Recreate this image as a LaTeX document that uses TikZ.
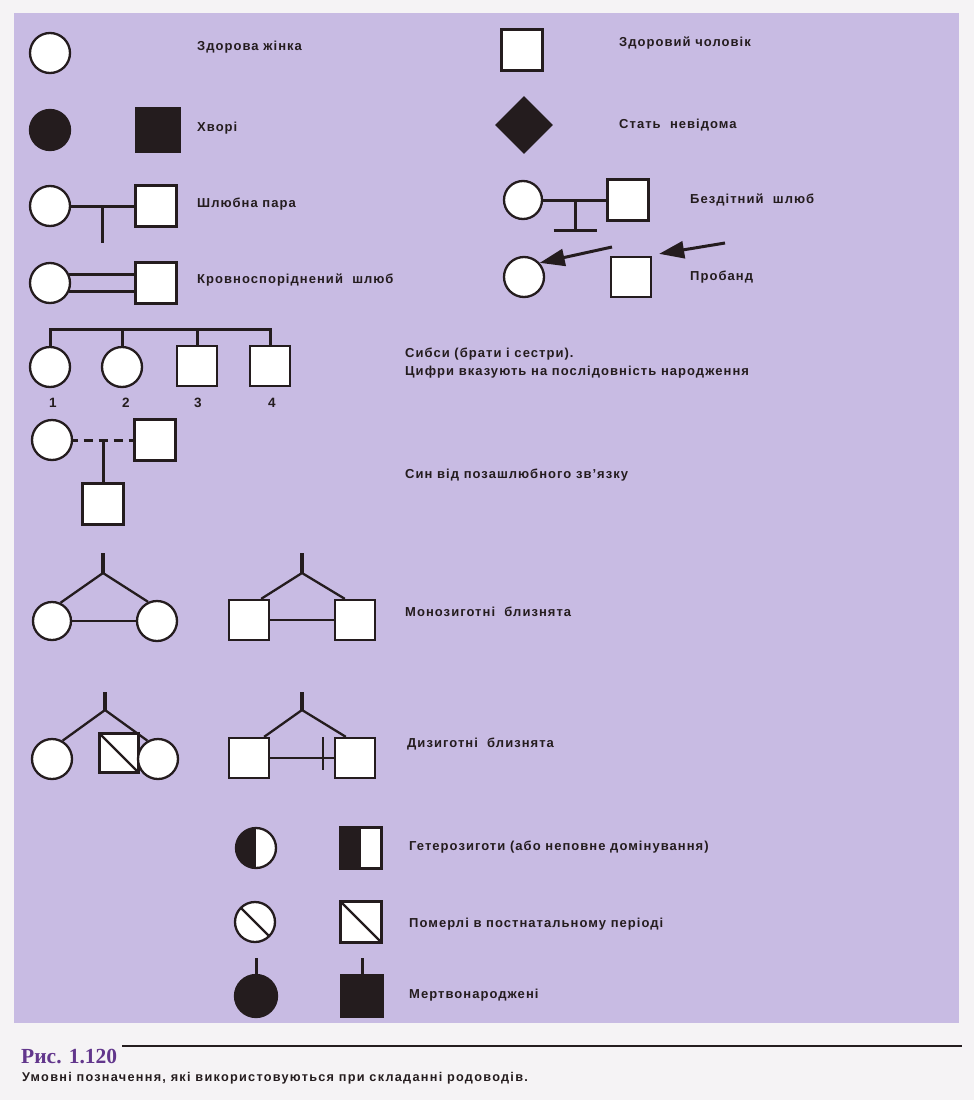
\documentclass[tikz,border=0pt]{standalone}
\usepackage{fontspec}
\setmainfont{Liberation Sans}
\newfontfamily\lblfont{Liberation Sans}[LetterSpace=8]
\newfontfamily\capfont{Liberation Sans}[LetterSpace=10]
\newfontfamily\figfont{Liberation Serif}
\usetikzlibrary{shapes.geometric,arrows.meta}
\definecolor{ink}{RGB}{36,28,30}
\definecolor{panel}{RGB}{200,187,227}
\definecolor{paper}{RGB}{245,243,245}
\definecolor{figpurple}{RGB}{98,54,140}
\tikzset{fem/.style={circle,draw=ink,line width=2.3pt,fill=white,minimum size=40pt,inner sep=0pt},
  male/.style={rectangle,draw=ink,line width=2.3pt,fill=white,minimum size=41pt,inner sep=0pt},
  ill/.style={fill=ink},
  halfill/.style={path picture={\fill [ink] (path picture bounding box.south west) rectangle (path picture bounding box.north);}},
  dead/.style={path picture={\draw [ink,line width=2.3pt] (path picture bounding box.north west) -- (path picture bounding box.south east);}},
  lbl/.style={anchor=west,inner sep=0pt,text=ink,font=\lblfont\bfseries\fontsize{13}{18}\selectfont},
  num/.style={inner sep=0pt,text=ink,font=\lblfont\bfseries\fontsize{13.5}{14}\selectfont},
  link/.style={draw=ink,line width=3pt},
  twin/.style={draw=ink,line width=2.3pt},
  stub/.style={draw=ink,line width=3.6pt}}

\begin{document}
\begin{tikzpicture}[x=1pt,y=-1pt]
  \fill [paper] (0,0) rectangle (974,1100);
  \useasboundingbox (0,0) rectangle (974,1100);
  \fill [panel] (14,13) rectangle (959,1023);
  \node [fem] (hw) at (50,53) {};
  \node [lbl] (thw) at (197,47) {Здорова жінка};
  \node [fem,ill] (aw) at (50,130) {};
  \node [male,ill,minimum size=43pt] (am) at (158,130) {};
  \node [lbl] (ta) at (197,128) {Хворі};
  \node [fem] (mw) at (50,206) {};
  \node [male] (mm) at (156,206) {};
  \coordinate (md) at (102,243);
  \draw [link] (mw) -- (mm);
  \draw [link] (md |- mm) -- (md);
  \node [lbl] (tm) at (197,204) {Шлюбна пара};
  \node [fem] (cw) at (50,283) {};
  \node [male] (cm) at (156,283) {};
  \draw [link] (cw.25) -- (cw.25 -| cm.west);
  \draw [link] (cw.-25) -- (cw.-25 -| cm.west);
  \node [lbl] (tc) at (197,280) {Кровноспоріднений \ шлюб};
  \node [male] (hm) at (522,50) {};
  \node [lbl] (thm) at (619,43) {Здоровий чоловік};
  \node [diamond,fill=ink,minimum size=58pt,inner sep=0pt] (uk) at (524,125) {};
  \node [lbl] (tuk) at (619,125) {Стать \ невідома};
  \node [fem,minimum size=38pt] (bw) at (523,200) {};
  \node [male] (bm) at (628,200) {};
  \coordinate (bd) at (575,230);
  \draw [link] (bw) -- (bm);
  \draw [link] (bd |- bm) -- (bd);
  \draw [link] ([xshift=-21.5pt]bd) -- ([xshift=21.5pt]bd);
  \node [lbl] (tb) at (690,200) {Бездітний \ шлюб};
  \node [fem] (pw) at (524,277) {};
  \node [male,minimum size=40pt] (pm) at (631,277) {};
  \coordinate (pa) at (612,247);
  \coordinate (pb) at (725,243);
  \draw [link,-{Triangle[length=25pt,width=17pt]}] (pa) -- (pw.42);
  \draw [link,-{Triangle[length=25pt,width=17pt]}] (pb) -- ([xshift=7pt,yshift=2pt]pm.north east);
  \node [lbl] (tp) at (690,277) {Пробанд};
  \node [fem] (s1) at (50,367) {};
  \node [fem] (s2) at (122,367) {};
  \node [male,minimum size=40pt] (s3) at (197,366) {};
  \node [male,minimum size=40pt] (s4) at (270,366) {};
  \coordinate (sl) at (50,329);
  \draw [link] (s1) -- (s1 |- sl) -- (s4 |- sl) -- (s4);
  \foreach \s in {s2,s3}
    \draw [link] (\s) -- (\s |- sl);
  \foreach \n/\x in {1/53,2/126,3/198,4/272}
    \node [num] (n\n) at (\x,403) {\n};
  \node [lbl,align=left] (ts) at (405,363) {Сибси (брати і сестри).\\Цифри вказують на послідовність народження};
  \node [fem] (iw) at (52,440) {};
  \node [male] (im) at (155,440) {};
  \node [male] (ic) at (103,504) {};
  \draw [link,dash pattern=on 9pt off 6pt,dash phase=4.5pt] (iw) -- (im);
  \draw [link] (ic |- im) -- (ic);
  \node [lbl] (ti) at (405,475) {Син від позашлюбного зв’язку};
  \node [fem,minimum size=38pt] (mz1) at (52,621) {};
  \node [fem] (mz2) at (157,621) {};
  \coordinate (mza) at (103,573);
  \draw [stub] (mza) -- ++(0,-20);
  \draw [twin] (mz1.65) -- (mza) -- (mz2.115);
  \draw [twin] (mz1) -- (mz2);
  \node [male,minimum size=40pt] (ms1) at (249,620) {};
  \node [male,minimum size=40pt] (ms2) at (355,620) {};
  \coordinate (msa) at (302,573);
  \draw [stub] (msa) -- ++(0,-20);
  \draw [twin] ([xshift=-9pt]ms1.north east) -- (msa) -- ([xshift=11pt]ms2.north west);
  \draw [twin] (ms1) -- (ms2);
  \node [lbl] (tmz) at (405,612) {Монозиготні \ близнята};
  \node [fem] (dz1) at (52,759) {};
  \node [male,minimum size=39pt,dead] (dz2) at (119,753) {};
  \node [fem] (dz3) at (158,759) {};
  \coordinate (dza) at (105,710);
  \draw [stub] (dza) -- ++(0,-18);
  \draw [twin] (dz1.60) -- (dza) -- (dz3.120);
  \node [male,minimum size=40pt] (ds1) at (249,758) {};
  \node [male,minimum size=40pt] (ds2) at (355,758) {};
  \coordinate (dsa) at (302,710);
  \coordinate (dst) at (323,754);
  \draw [stub] (dsa) -- ++(0,-18);
  \draw [twin] ([xshift=-6pt]ds1.north east) -- (dsa) -- ([xshift=12pt]ds2.north west);
  \draw [twin] (ds1) -- (ds2);
  \draw [twin] ([yshift=17pt]dst) -- ([yshift=-16pt]dst);
  \node [lbl] (tdz) at (407,744) {Дизиготні \ близнята};
  \node [fem,halfill] (h1) at (256,848) {};
  \node [male,halfill] (h2) at (361,848) {};
  \node [lbl] (th) at (409,847) {Гетерозиготи (або неповне домінування)};
  \node [fem,dead] (d1) at (255,922) {};
  \node [male,dead] (d2) at (361,922) {};
  \node [lbl] (td) at (409,924) {Померлі в постнатальному періоді};
  \node [fem,ill,minimum size=42pt] (b1) at (256,996) {};
  \node [male,ill,minimum size=42pt] (b2) at (362,996) {};
  \draw [link] (b1) -- ++(0,-38);
  \draw [link] (b2) -- ++(0,-38);
  \node [lbl] (tsb) at (409,995) {Мертвонароджені};
  \node [anchor=west,inner sep=0pt,text=figpurple,font=\figfont\bfseries\fontsize{21.5}{24}\selectfont] (fig) at (21,1056) {Рис. 1.120};
  \draw [ink,line width=1.8pt] (122,1046) -- (962,1046);
  \node [anchor=west,inner sep=0pt,text=ink,font=\capfont\bfseries\fontsize{12.7}{14}\selectfont] (cap) at (22,1078) {Умовні позначення, які використовуються при складанні родоводів.};
\end{tikzpicture}
\end{document}
